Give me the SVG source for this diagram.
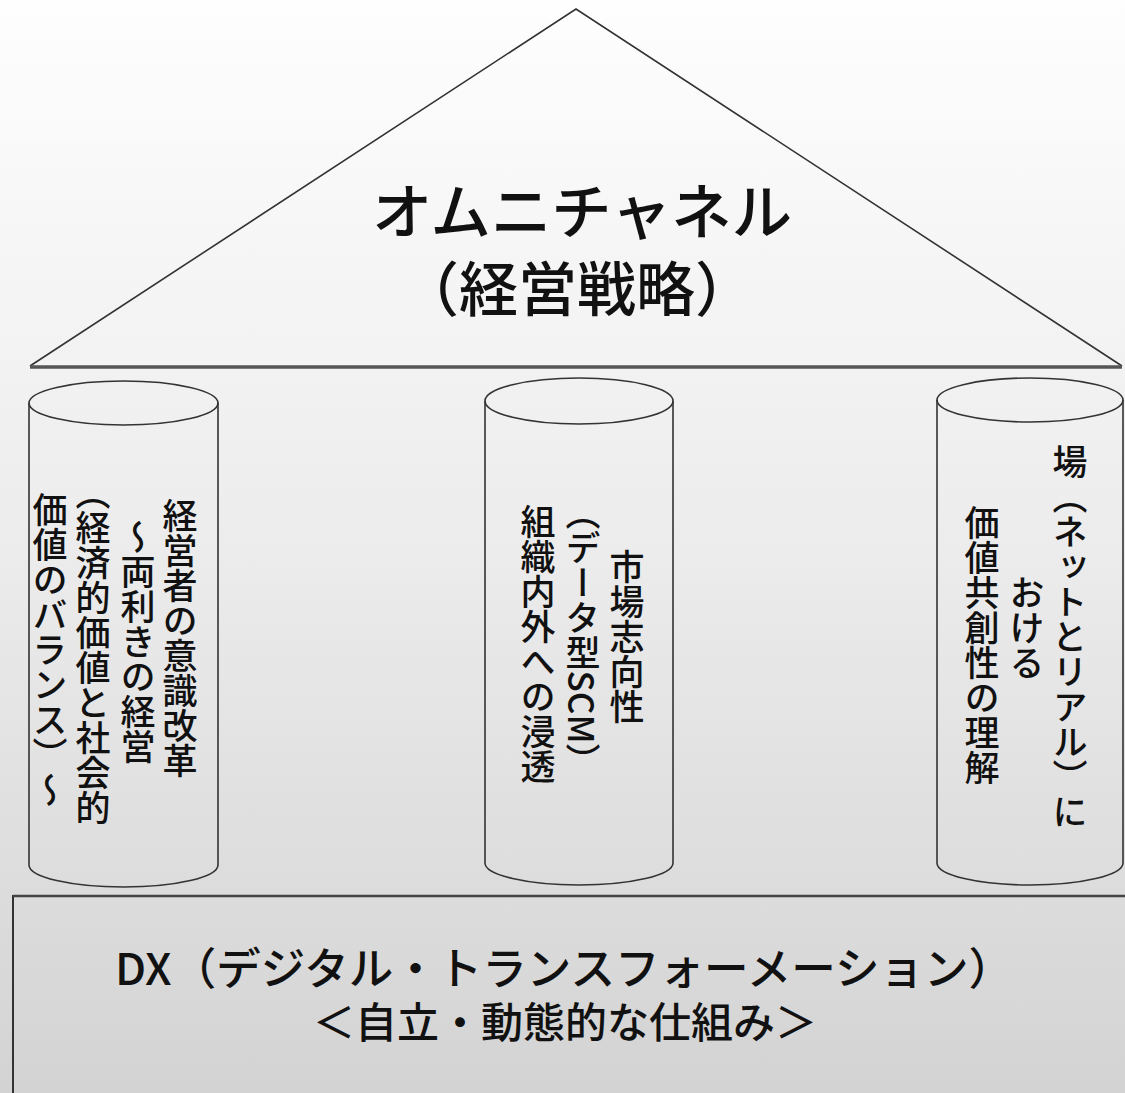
<svg xmlns="http://www.w3.org/2000/svg" width="1125" height="1093" viewBox="0 0 1125 1093">
<defs>
<linearGradient id="bg" x1="0" y1="0" x2="0" y2="1">
<stop offset="0" stop-color="#fefefe"/>
<stop offset="0.5" stop-color="#ececec"/>
<stop offset="1" stop-color="#d3d3d3"/>
</linearGradient>
</defs>
<style>
.ln{fill:none;stroke:#333;stroke-width:1.6}
.t{font-family:"Noto Sans CJK JP","Noto Sans CJK SC",sans-serif;fill:#111;font-weight:500}
.v{font-family:"Noto Sans CJK JP","Noto Sans CJK SC",sans-serif;fill:#111;font-weight:500;font-size:35px;writing-mode:vertical-rl;text-anchor:middle}
</style>
<rect x="0" y="0" width="1125" height="1093" fill="url(#bg)"/>
<g id="roof">
<polyline class="ln" points="30,366 576,9 1122,366"/>
<line x1="30" y1="367" x2="1122" y2="367" stroke="#555" stroke-width="3.5"/>
<text class="t" x="582" y="234" font-size="60" text-anchor="middle" textLength="420" lengthAdjust="spacingAndGlyphs">オムニチャネル</text>
<text class="t" x="577" y="311" font-size="59" text-anchor="middle">（経営戦略）</text>
</g>
<g id="pillar-left">
<path class="ln" d="M29,403 V865 A94.5,22 0 0 0 218,865 V403"/>
<ellipse class="ln" cx="123.5" cy="403" rx="94.5" ry="22"/>
<text class="v" x="180" y="638">経営者の意識改革</text>
<text class="v" x="138" y="642">～両利きの経営</text>
<text class="v" x="93" y="650">（経済的価値と社会的</text>
<text class="v" x="50" y="650">価値のバランス）～</text>
</g>
<g id="pillar-center">
<path class="ln" d="M485,401 V863 A94,22 0 0 0 673,863 V401"/>
<ellipse class="ln" cx="579" cy="401" rx="94" ry="23"/>
<text class="v" x="627" y="637">市場志向性</text>
<text class="v" x="583" y="637">（データ型SCM）</text>
<text class="v" x="538" y="644">組織内外への浸透</text>
</g>
<g id="pillar-right">
<path class="ln" d="M937,400 V863 A93,22 0 0 0 1123,863 V400"/>
<ellipse class="ln" cx="1030" cy="400" rx="93" ry="22"/>
<text class="v" x="1070" y="637">場（ネットとリアル）に</text>
<text class="v" x="1027" y="628">おける</text>
<text class="v" x="982" y="645">価値共創性の理解</text>
</g>
<g id="foundation">
<polyline points="13,1093 13,896 1125,896" fill="none" stroke="#333" stroke-width="2"/>
<line x1="13" y1="896" x2="1125" y2="896" stroke="#444" stroke-width="2.5"/>
<text class="t" x="564" y="985" font-size="44" text-anchor="middle" textLength="898" lengthAdjust="spacingAndGlyphs">DX（デジタル・トランスフォーメーション）</text>
<text class="t" x="565" y="1038" font-size="42" text-anchor="middle">＜自立・動態的な仕組み＞</text>
</g>
<g id="connectors"></g>
</svg>
